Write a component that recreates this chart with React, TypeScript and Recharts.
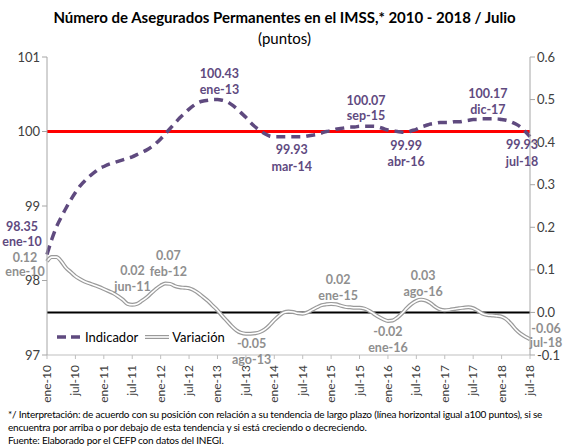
import React from 'react';
import { LineChart, Line, XAxis, YAxis, ReferenceLine } from 'recharts';

const monthNames = ['ene', 'feb', 'mar', 'abr', 'may', 'jun', 'jul', 'ago', 'sep', 'oct', 'nov', 'dic'];
const years = [10, 11, 12, 13, 14, 15, 16, 17, 18];

// Indicador (eje izquierdo), ene-10 .. jul-18
const indicador = [
  98.35, 98.55, 98.72, 98.85, 98.97, 99.08, 99.18, 99.27, 99.34, 99.40, 99.45, 99.50,
  99.53, 99.56, 99.58, 99.60, 99.62, 99.64, 99.66, 99.69, 99.72, 99.75, 99.79, 99.84,
  99.90, 99.97, 100.04, 100.11, 100.18, 100.24, 100.30, 100.35, 100.39, 100.41, 100.42, 100.43,
  100.43, 100.42, 100.40, 100.36, 100.31, 100.25, 100.19, 100.12, 100.06, 100.01, 99.97, 99.94,
  99.93, 99.93, 99.93, 99.93, 99.93, 99.93, 99.93, 99.94, 99.95, 99.96, 99.98, 100.00,
  100.01, 100.03, 100.04, 100.05, 100.06, 100.06, 100.07, 100.07, 100.07, 100.07, 100.06, 100.04,
  100.02, 100.01, 100.00, 99.99, 99.99, 100.01, 100.03, 100.06, 100.08, 100.10, 100.11, 100.12,
  100.12, 100.12, 100.13, 100.13, 100.14, 100.15, 100.16, 100.16, 100.17, 100.17, 100.17, 100.17,
  100.16, 100.15, 100.13, 100.10, 100.06, 100.00, 99.93,
];

// Variación (eje derecho)
const variacion = [
  0.12, 0.13, 0.13, 0.12, 0.105, 0.095, 0.085, 0.078, 0.072, 0.068, 0.064, 0.06,
  0.055, 0.05, 0.045, 0.038, 0.03, 0.02, 0.018, 0.02, 0.027, 0.035, 0.045, 0.055,
  0.063, 0.068, 0.067, 0.062, 0.059, 0.058, 0.057, 0.052, 0.045, 0.036, 0.027, 0.016,
  0.005, -0.008, -0.02, -0.032, -0.042, -0.048, -0.05, -0.05, -0.049, -0.046, -0.04, -0.03,
  -0.018, -0.008, 0.0, 0.002, 0.001, -0.002, -0.003, 0.0, 0.006, 0.012, 0.017, 0.019,
  0.02, 0.019, 0.016, 0.013, 0.012, 0.011, 0.011, 0.009, 0.004, -0.003, -0.01, -0.016,
  -0.02, -0.019, -0.012, -0.002, 0.01, 0.02, 0.027, 0.03, 0.028, 0.022, 0.013, 0.007,
  0.005, 0.006, 0.008, 0.01, 0.011, 0.012, 0.01, 0.004, -0.003, -0.006, -0.007, -0.008,
  -0.01, -0.016, -0.027, -0.04, -0.05, -0.057, -0.063,
];

const leftTicks = [97, 98, 99, 100, 101];
const rightTicks = [-0.1, 0, 0.1, 0.2, 0.3, 0.4, 0.5, 0.6];

const labels: string[] = [];
years.forEach((y) => monthNames.forEach((m) => labels.push(`${m}-${y}`)));

const data = indicador.map((v, i) => ({ label: labels[i], indicador: v, variacion: variacion[i] }));

// desplazamiento de las etiquetas respecto al punto [dx, dy, salto de linea]
const notasIndicador: Record<number, [number, number, number]> = {
  0: [-25, -28, 15], 36: [2, -26, 16], 50: [8, 13, 17], 68: [-3, -26, 15], 75: [4, 13, 16], 95: [-9, -25, 16], 102: [-8, 8, 17],
};
const notasVariacion: Record<number, [number, number, number]> = {
  0: [-22, -4, 14], 17: [5, -33, 16], 25: [3, -28, 16], 43: [1, 10, 16], 60: [7, -24, 16], 72: [0, 11, 16], 79: [2, -24, 16], 102: [16, -11, 14],
};

const PURPLE = '#5f4a7f';
const GRAY = '#8f8f8f';
const FONT = 'Lato, "Open Sans", sans-serif';

const makeDot = (notas: Record<number, [number, number, number]>, color: string, key: 'indicador' | 'variacion') =>
  (props: any) => {
    const { cx, cy, index, payload } = props;
    const off = notas[index];
    if (!off || cx == null) return <g key={`d-${key}-${index}`} />;
    const x = cx + off[0];
    const y = cy + off[1];
    return (
      <g key={`d-${key}-${index}`}>
        <text x={x} y={y} textAnchor="middle" dominantBaseline="central" fill={color} fontSize={12.5} fontWeight="bold" fontFamily={FONT}>
          {payload[key].toFixed(2)}
        </text>
        <text x={x} y={y + off[2]} textAnchor="middle" dominantBaseline="central" fill={color} fontSize={12.5} fontWeight="bold" fontFamily={FONT}>
          {payload.label}
        </text>
      </g>
    );
  };

const XTick = (props: any) => {
  const { x, y, payload } = props;
  return (
    <text x={x + 4} y={y + 4} transform={`rotate(-90 ${x + 4} ${y + 4})`} textAnchor="end" fill="#404040" fontSize={12} fontFamily={FONT}>
      {payload.value}
    </text>
  );
};

const App: React.FC = () => {
  return (
    <div style={{ position: 'absolute', left: 0, top: 0, width: 569, height: 448, background: '#fff', fontFamily: FONT }}>
      <div style={{ position: 'absolute', top: 8, left: 0, width: 569, textAlign: 'center', fontSize: 15, fontWeight: 'bold', color: '#000' }}>
        Número de Asegurados Permanentes en el IMSS,* 2010 - 2018 / Julio
      </div>
      <div style={{ position: 'absolute', top: 29, left: 0, width: 569, textAlign: 'center', fontSize: 15, color: '#000' }}>
        (puntos)
      </div>
      <LineChart width={569} height={448} data={data} margin={{ top: 57, right: 0, bottom: 0, left: 0 }}>
        <XAxis
          dataKey="label"
          interval={5}
          height={93}
          tick={<XTick />}
          tickLine={{ stroke: '#bfbfbf' }}
          axisLine={{ stroke: '#bfbfbf' }}
          tickSize={4}
        />
        <YAxis
          yAxisId="left"
          width={47}
          domain={[97, 101]}
          ticks={leftTicks}
          interval={0}
          tick={{ fill: '#404040', fontSize: 13, fontFamily: FONT }}
          tickLine={{ stroke: '#a6a6a6' }}
          axisLine={{ stroke: '#a6a6a6' }}
          tickSize={5}
        />
        <YAxis
          yAxisId="right"
          orientation="right"
          width={39}
          domain={[-0.1, 0.6]}
          ticks={rightTicks}
          interval={0}
          tickFormatter={(v: number) => v.toFixed(1)}
          tick={{ fill: '#404040', fontSize: 13, fontFamily: FONT }}
          tickLine={{ stroke: '#a6a6a6' }}
          axisLine={{ stroke: '#a6a6a6' }}
          tickSize={5}
        />
        <ReferenceLine yAxisId="left" y={100} stroke="#ff0000" strokeWidth={3} />
        <ReferenceLine yAxisId="right" y={0} stroke="#000" strokeWidth={2} />
        <Line
          yAxisId="right"
          dataKey="variacion"
          type="monotone"
          stroke="#9a9a9a"
          strokeWidth={4}
          dot={false}
          activeDot={false}
          isAnimationActive={false}
        />
        <Line
          yAxisId="right"
          dataKey="variacion"
          type="monotone"
          stroke="#ffffff"
          strokeWidth={1.6}
          dot={makeDot(notasVariacion, GRAY, 'variacion')}
          activeDot={false}
          isAnimationActive={false}
        />
        <Line
          yAxisId="left"
          dataKey="indicador"
          type="monotone"
          stroke={PURPLE}
          strokeWidth={3.5}
          strokeDasharray="9 6"
          dot={makeDot(notasIndicador, PURPLE, 'indicador')}
          activeDot={false}
          isAnimationActive={false}
        />
      </LineChart>
      <div style={{ position: 'absolute', left: 55, top: 329, display: 'flex', alignItems: 'center', fontSize: 13, color: '#000' }}>
        <svg width={28} height={10}>
          <line x1={2} y1={5} x2={26} y2={5} stroke={PURPLE} strokeWidth={3.5} strokeDasharray="9 5" />
        </svg>
        <span style={{ marginLeft: 2 }}>Indicador</span>
        <svg width={28} height={10} style={{ marginLeft: 5 }}>
          <line x1={2} y1={5} x2={26} y2={5} stroke="#9a9a9a" strokeWidth={4} />
          <line x1={2} y1={5} x2={26} y2={5} stroke="#fff" strokeWidth={1.6} />
        </svg>
        <span style={{ marginLeft: 1 }}>Variación</span>
      </div>
      <div style={{ position: 'absolute', left: 8, top: 408, fontSize: 10, lineHeight: '13px', color: '#000', letterSpacing: -0.2 }}>
        <div>*/ Interpretación: de acuerdo con su posición con relación a su tendencia de largo plazo (línea horizontal igual a100 puntos), si se</div>
        <div>encuentra por arriba o por debajo de esta tendencia y si está creciendo o decreciendo.</div>
        <div>Fuente: Elaborado por el CEFP con datos del INEGI.</div>
      </div>
    </div>
  );
};

export default App;
